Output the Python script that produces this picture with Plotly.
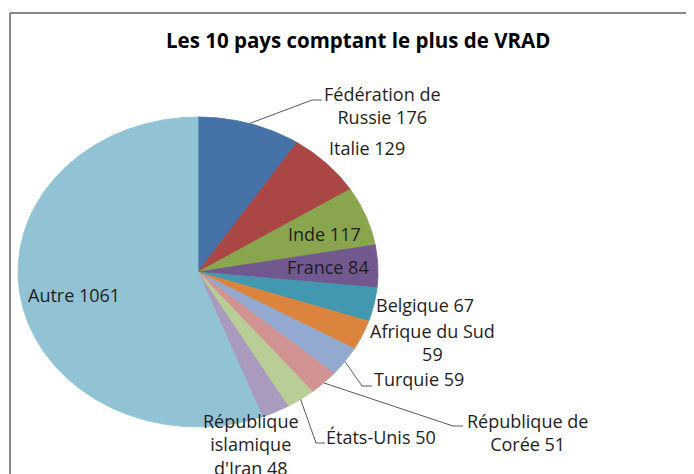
import math
import plotly.graph_objects as go

# ---- data ----
pays = ["Fédération de Russie", "Italie", "Inde", "France", "Belgique",
        "Afrique du Sud", "Turquie", "République de Corée", "États-Unis",
        "République islamique d'Iran", "Autre"]
vrad = [176, 129, 117, 84, 67, 59, 59, 51, 50, 48, 1061]
titre = "Les 10 pays comptant le plus de VRAD"

# ---- style / layout ----
couleurs = ["#4572A7", "#AA4643", "#89A54E", "#71588F", "#4198AF", "#DB843D",
            "#93A9CF", "#D19392", "#B9CD96", "#A99BBD", "#92C3D4"]
W, H = 694, 474
OFF = 8                                # page body margin
CX, CY, RX, RY = 198, 272, 180, 155   # ellipse centre / radii (page pixels)
FONT = "Open Sans"
TXT = "#1e1e1e"
LBL = 18

# label template, centre position, leader path end points
etiquettes = {
    "Fédération de Russie": ("Fédération de<br>Russie {v}", 382, 105, [(312, 100), (322, 100)]),
    "Italie": ("Italie {v}", 367, 148, None),
    "Inde": ("Inde {v}", 324, 234, None),
    "France": ("France {v}", 328, 267, None),
    "Belgique": ("Belgique {v}", 425, 305, None),
    "Afrique du Sud": ("Afrique du Sud<br>{v}", 432, 342, None),
    "Turquie": ("Turquie {v}", 419, 379, [(362, 386), (372, 386)]),
    "République de Corée": ("République de<br>Corée {v}", 527, 432, [(453, 426), (463, 426)]),
    "États-Unis": ("États-Unis {v}", 381, 437, [(316, 443), (325, 443)]),
    "République islamique d'Iran": ("République<br>islamique<br>d'Iran {v}", 251, 444, None),
    "Autre": ("Autre {v}", 74, 295, None),
}

fig = go.Figure()
total = sum(vrad)
cum = 0
for name, v, c in zip(pays, vrad, couleurs):
    a0 = cum / total * 2 * math.pi
    a1 = (cum + v) / total * 2 * math.pi
    n = max(4, int((a1 - a0) / (math.pi / 360)))
    xs, ys = [CX], [CY]
    for i in range(n + 1):
        a = a0 + (a1 - a0) * i / n
        xs.append(CX + RX * math.sin(a))
        ys.append(CY - RY * math.cos(a))
    xs.append(CX)
    ys.append(CY)
    fig.add_trace(go.Scatter(x=xs, y=ys, fill="toself", fillcolor=c, mode="lines",
                             line=dict(color=c, width=0.8), hoverinfo="text",
                             text=f"{name}: {v}", showlegend=False))
    am = (a0 + a1) / 2
    mx, my = CX + RX * math.sin(am), CY - RY * math.cos(am)
    tpl, lx, ly, leader = etiquettes[name]
    if leader:
        px = [mx] + [p[0] for p in leader]
        py = [my] + [p[1] for p in leader]
        fig.add_trace(go.Scatter(x=px, y=py, mode="lines", line=dict(color="#5a5a5a", width=1),
                                 hoverinfo="skip", showlegend=False))
    fig.add_annotation(x=lx, y=ly, xref="x", yref="y", text=tpl.format(v=v), showarrow=False,
                       xanchor="center", yanchor="middle", align="center",
                       font=dict(family=FONT, size=LBL, color=TXT))
    cum += v

fig.add_annotation(x=358, y=40, xref="x", yref="y", text=f"<b>{titre}</b>", showarrow=False,
                   xanchor="center", yanchor="middle",
                   font=dict(family=FONT, size=20.5, color="#000000"))

# chart border (top and left edges visible)
fig.add_shape(type="line", xref="x", yref="y", x0=10, y0=13, x1=W, y1=13,
              line=dict(color="#878787", width=2), layer="above")
fig.add_shape(type="line", xref="x", yref="y", x0=10, y0=13, x1=10, y1=H,
              line=dict(color="#878787", width=2), layer="above")

fig.update_xaxes(range=[OFF, W], visible=False, fixedrange=True)
fig.update_yaxes(range=[H, OFF], visible=False, fixedrange=True)
fig.update_layout(width=W - OFF, height=H - OFF, margin=dict(l=0, r=0, t=0, b=0),
                  paper_bgcolor="white", plot_bgcolor="white", showlegend=False)

fig.write_html("out.html")
